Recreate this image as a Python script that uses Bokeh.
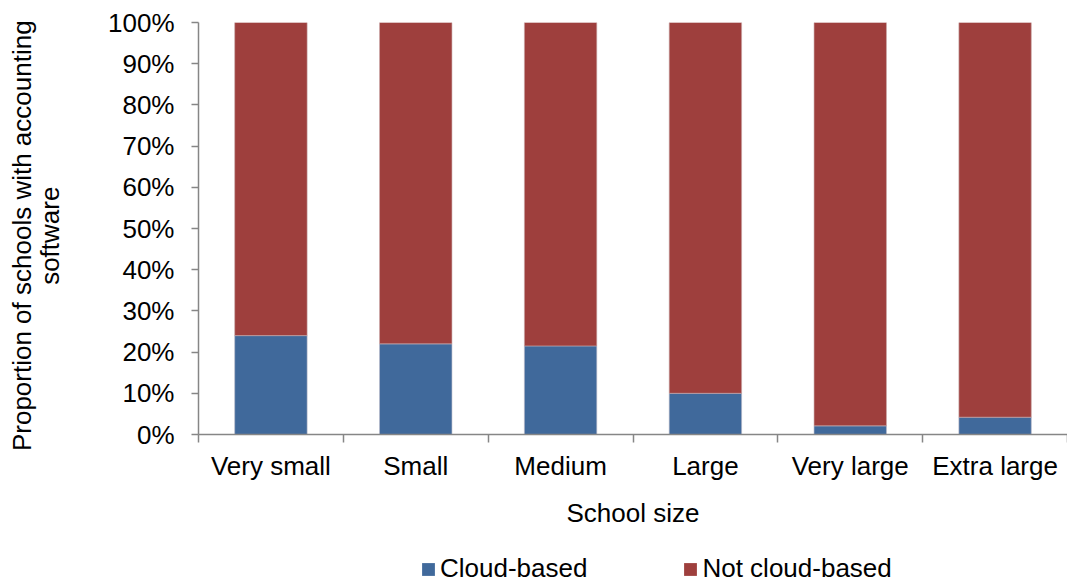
from bokeh.plotting import figure
from bokeh.layouts import column
from bokeh.models import (ColumnDataSource, FixedTicker, NumeralTickFormatter,
                          Range1d, Legend, LegendItem)
from bokeh.embed import file_html
from bokeh.resources import INLINE

categories = ["Very small", "Small", "Medium", "Large", "Very large", "Extra large"]
cloud_based = [0.240, 0.220, 0.215, 0.100, 0.021, 0.042]
not_cloud_based = [1 - v for v in cloud_based]
series_names = ["Cloud-based", "Not cloud-based"]
y_ticks = [i / 10 for i in range(11)]
y_title_lines = ["Proportion of schools with accounting", "software"]

BLUE = "#40699B"
RED = "#9E3F3D"
FONT = "Liberation Sans"
FS = "26px"
NB = "\u00a0" * 2

xc = [i + 0.5 for i in range(len(categories))]
tops = [c + n for c, n in zip(cloud_based, not_cloud_based)]
src = ColumnDataSource(dict(x=xc, cloud=cloud_based, top=tops))

p = figure(width=1067, height=544, output_backend="svg", toolbar_location=None,
           x_range=Range1d(0, len(categories)), y_range=Range1d(0, 1),
           min_border_left=198, min_border_right=0, min_border_top=22,
           min_border_bottom=110)
p.outline_line_color = None
p.grid.grid_line_color = None

r1 = p.vbar(x="x", width=0.5, bottom=0, top="cloud", source=src,
            fill_color=BLUE, line_color="#B9B9C8", line_width=0.6)
r2 = p.vbar(x="x", width=0.5, bottom="cloud", top="top", source=src,
            fill_color=RED, line_color="#C9A9A9", line_width=0.6)

# x axis
xa = p.xaxis[0]
xa.ticker = FixedTicker(ticks=xc, minor_ticks=list(range(len(categories) + 1)))
xa.major_label_overrides = {x: c for x, c in zip(xc, categories)}
xa.major_tick_out = 0
xa.major_tick_in = 0
xa.minor_tick_out = 8
xa.minor_tick_in = 0
xa.minor_tick_line_color = "#868686"
xa.axis_line_color = "#868686"
xa.axis_line_width = 1.5
xa.minor_tick_line_width = 1.5
xa.major_label_text_font = FONT
xa.major_label_text_font_size = FS
xa.major_label_text_color = "#000000"
xa.major_label_standoff = 8
xa.axis_label = "School size"
xa.axis_label_text_font = FONT
xa.axis_label_text_font_size = FS
xa.axis_label_text_font_style = "normal"
xa.axis_label_text_color = "#000000"
xa.axis_label_standoff = 14

ya = p.yaxis[0]
ya.ticker = FixedTicker(ticks=y_ticks, minor_ticks=[])
ya.formatter = NumeralTickFormatter(format="0%")
ya.major_tick_out = 7
ya.major_tick_in = 0
ya.major_tick_line_color = "#868686"
ya.major_tick_line_width = 1.5
ya.axis_line_color = "#868686"
ya.axis_line_width = 1.5
ya.major_label_text_font = FONT
ya.major_label_text_font_size = FS
ya.major_label_text_color = "#000000"
ya.major_label_standoff = 17
ya.axis_label = "\n".join(line + NB for line in y_title_lines)
ya.axis_label_text_font = FONT
ya.axis_label_text_font_size = FS
ya.axis_label_text_font_style = "normal"
ya.axis_label_text_color = "#000000"
ya.axis_label_text_line_height = 0.95
ya.axis_label_standoff = 40

# legend strip
p2 = figure(width=1067, height=40, output_backend="svg", toolbar_location=None,
            x_range=Range1d(0, 1), y_range=Range1d(0, 1),
            min_border_left=0, min_border_right=0, min_border_top=0,
            min_border_bottom=0, x_axis_location=None, y_axis_location=None)
p2.outline_line_color = None
p2.grid.grid_line_color = None
dummy = ColumnDataSource(dict(x=[5.0], top=[6.0], bottom=[5.0]))
l1 = p2.vbar(x="x", top="top", bottom="bottom", width=0.1, source=dummy,
             fill_color=BLUE, line_color=None)
l2 = p2.vbar(x="x", top="top", bottom="bottom", width=0.1, source=dummy,
             fill_color=RED, line_color=None)

legend = Legend(items=[LegendItem(label=series_names[0], renderers=[l1]),
                       LegendItem(label=series_names[1], renderers=[l2])],
                orientation="horizontal", location=(222, 0),
                label_text_font=FONT, label_text_font_size=FS,
                label_text_color="#000000", glyph_width=16, glyph_height=16,
                spacing=95, padding=0, margin=0, border_line_color=None,
                background_fill_alpha=0, label_standoff=4)
p2.add_layout(legend, "center")

layout = column(p, p2, spacing=0)
open("out.html", "w").write(file_html(layout, INLINE))
